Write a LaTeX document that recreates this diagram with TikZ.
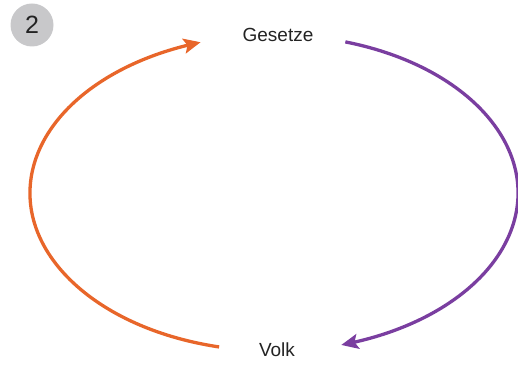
\documentclass[tikz,border=0pt]{standalone}
\usepackage{fontspec}
\setmainfont{Liberation Sans}
\usetikzlibrary{arrows.meta,bending}
\definecolor{cycleorange}{RGB}{232,102,42}
\definecolor{cyclepurple}{RGB}{122,62,160}
\definecolor{badgegray}{RGB}{200,200,202}
\definecolor{labelgray}{RGB}{35,35,35}
\tikzset{
  x=1pt, y=1pt,
  label text/.style={font=\fontsize{19}{19}\selectfont, text=labelgray, inner sep=0pt},
  cyclearrow/.style={line width=3.3pt, -{Stealth[length=17pt,width=15pt,inset=3.5pt,bend]}},
  badge/.style={circle, fill=badgegray, minimum size=43pt, inner sep=0pt,
    font=\fontsize{25}{25}\selectfont, text=labelgray}
}
\begin{document}
\begin{tikzpicture}
  \useasboundingbox (0,0) rectangle (518,371);
  % number badge
  \node[badge] (num) at (32,346) {2};
  % labels
  \node[label text] (gesetze) at (278,336) {Gesetze};
  \node[label text] (volk) at (277,21) {Volk};
  % centre of the cycle
  \coordinate (c) at (274,178);
  \coordinate (o-start) at ([shift={(257:244 and 158)}]c);
  \coordinate (p-start) at ([shift={(73:244 and 158)}]c);
  % Volk -> Gesetze
  \draw[cyclearrow, cycleorange] (o-start) arc[start angle=257, end angle=107.5, x radius=244, y radius=158];
  % Gesetze -> Volk
  \draw[cyclearrow, cyclepurple] (p-start) arc[start angle=73, end angle=-74, x radius=244, y radius=158];
\end{tikzpicture}
\end{document}
